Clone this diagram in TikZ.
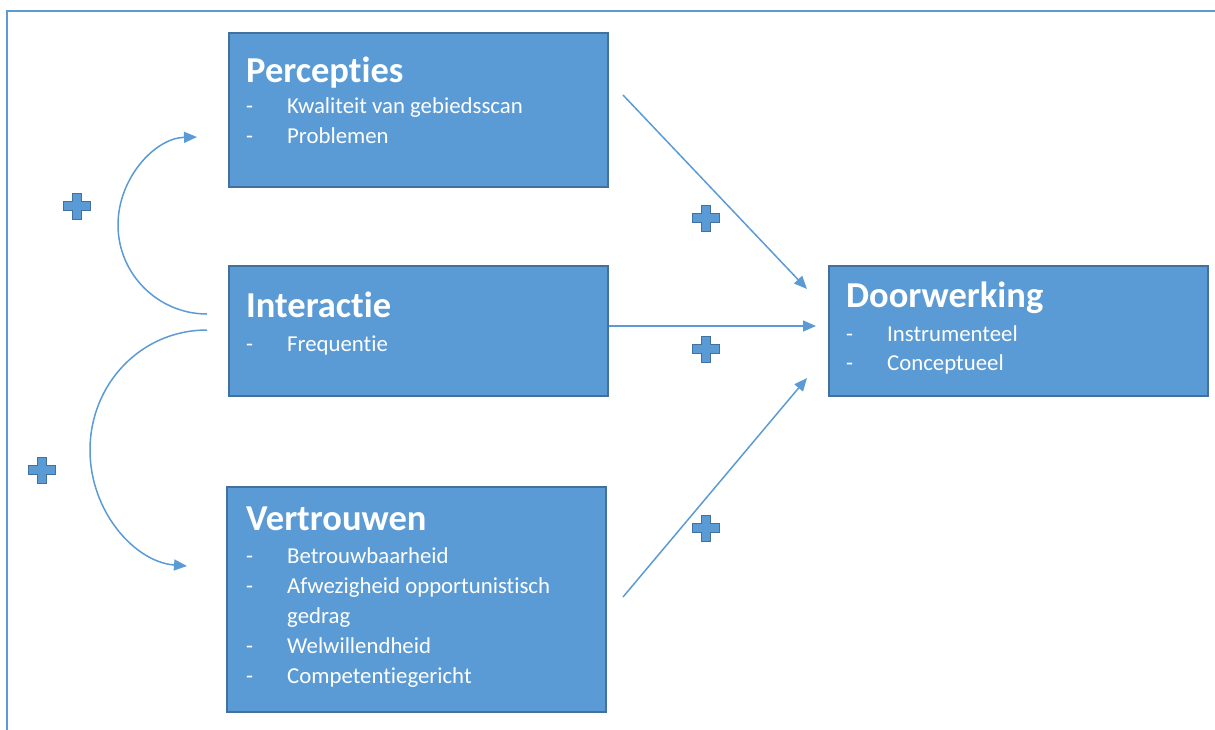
\documentclass[tikz,border=0pt]{standalone}
\usepackage{fontspec}
\setmainfont{Carlito}[Ligatures=NoCommon]
\usetikzlibrary{arrows.meta}
\definecolor{boxblue}{HTML}{5B9BD5}
\definecolor{boxedge}{HTML}{41719C}
\begin{document}
\begin{tikzpicture}[x=1pt,y=-1pt,
  block/.style={draw=boxedge, fill=boxblue, line width=1.2pt, anchor=north west,
    inner sep=0pt, outer sep=0pt},
  heading/.style={anchor=base west, text=white, inner sep=0pt,
    font=\fontsize{36.5}{40}\selectfont\bfseries},
  item/.style={anchor=base west, text=white, inner sep=0pt,
    font=\fontsize{22.8}{26}\selectfont},
  link/.style={draw=boxblue, line width=1.5pt, -{Triangle[length=13pt,width=11pt]}},
  plussign/.pic={
    \filldraw[fill=boxblue, draw=boxedge, line width=0.9pt]
      (-4.5,-13) -- (4.5,-13) -- (4.5,-4.5) -- (13.5,-4.5) -- (13.5,4.5) -- (4.5,4.5)
      -- (4.5,13) -- (-4.5,13) -- (-4.5,4.5) -- (-13.5,4.5) -- (-13.5,-4.5)
      -- (-4.5,-4.5) -- cycle;
  }
]
\useasboundingbox (0,0) rectangle (1215,729);

% outer frame
\draw[boxblue, line width=2pt] (7,760) -- (7,11) -- (1250,11);

% boxes
\node[block, minimum width=379pt, minimum height=154pt] (perc) at (229,33) {};
\node[block, minimum width=379pt, minimum height=130pt] (inter) at (229,266) {};
\node[block, minimum width=379pt, minimum height=225pt] (vert) at (227,487) {};
\node[block, minimum width=379pt, minimum height=130pt] (door) at (829,266) {};

\newcommand{\bul}{\makebox[41pt][l]{-}}

% Percepties
\node[heading] (percT) at (246,82) {Percepties};
\node[item] (perc1) at (246,113) {\bul Kwaliteit van gebiedsscan};
\node[item] (perc2) at (246,143) {\bul Problemen};

% Interactie
\node[heading] (interT) at (246,317) {Interactie};
\node[item] (inter1) at (246,351) {\bul Frequentie};

% Vertrouwen
\node[heading] (vertT) at (246,530) {Vertrouwen};
\node[item] (vert1) at (246,563) {\bul Betrouwbaarheid};
\node[item] (vert2) at (246,593) {\bul Afwezigheid opportunistisch};
\node[item] (vert2b) at (287,623) {gedrag};
\node[item] (vert3) at (246,653) {\bul Welwillendheid};
\node[item] (vert4) at (246,683) {\bul Competentiegericht};

% Doorwerking
\node[heading] (doorT) at (846,307) {Doorwerking};
\node[item] (door1) at (846,341) {\bul Instrumenteel};
\node[item] (door2) at (846,370) {\bul Conceptueel};

% connector end points
\coordinate (pOut) at (623,95);
\coordinate (dInA) at (807,289);
\coordinate (iOut) at (609,326);
\coordinate (dInB) at (816,326);
\coordinate (vOut) at (623,597);
\coordinate (dInC) at (807,378);
\coordinate (c1s) at (207,314);
\coordinate (c1m) at (118,225);
\coordinate (c1e) at (197,137);
\coordinate (c2s) at (207,330);
\coordinate (c2m) at (90,450);
\coordinate (c2e) at (187,566);

% connectors
\draw[link] (pOut) -- (dInA);
\draw[link] (iOut) -- (dInB);
\draw[link] (vOut) -- (dInC);
\draw[link] (c1s) .. controls (158,314) and (118,274) .. (c1m)
  .. controls (118,178) and (155,138) .. (c1e);
\draw[link] (c2s) .. controls (141,330) and (90,384) .. (c2m)
  .. controls (90,512) and (135,562) .. (c2e);

% plus signs
\pic (plusA) at (77,206) {plussign};
\pic (plusB) at (706,218) {plussign};
\pic (plusC) at (706,349) {plussign};
\pic (plusD) at (42,470) {plussign};
\pic (plusE) at (706,528) {plussign};
\end{tikzpicture}
\end{document}
